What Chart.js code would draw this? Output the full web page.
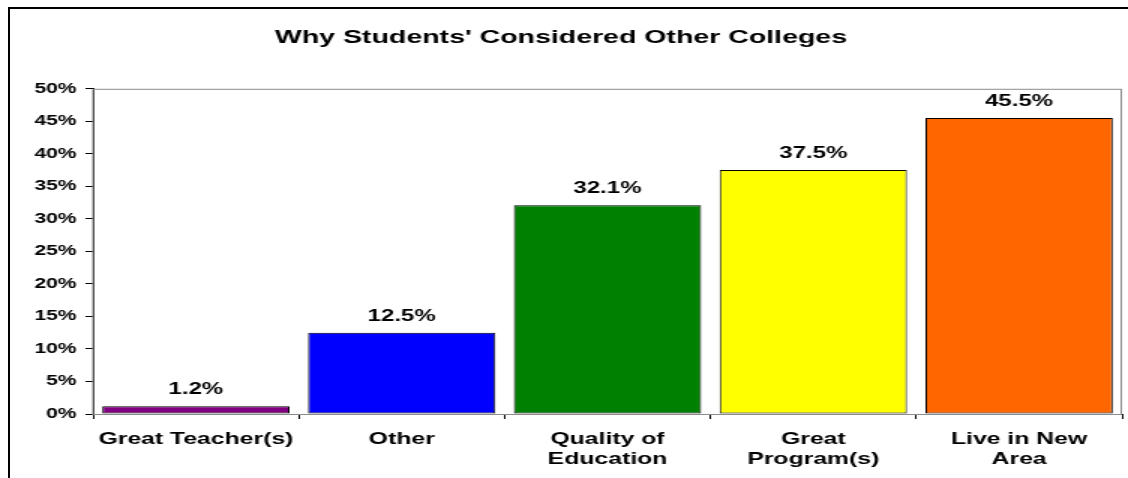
<!DOCTYPE html>
<html>
<head>
<meta charset="utf-8">
<script src="https://cdn.jsdelivr.net/npm/chart.js@4.4.1/dist/chart.umd.min.js"></script>
<style>
  html, body { margin: 0; padding: 0; background: #fff; overflow: hidden; width: 1128px; height: 478px; }
  #frame { position: absolute; left: 8px; top: 7px; width: 1140px; height: 490px; border: 2px solid #000; box-sizing: border-box; }
  #wrap { position: absolute; left: 0; top: 0; width: 752px; height: 478px; transform: scaleX(1.5); transform-origin: 0 0; }
  canvas { display: block; }
</style>
</head>
<body>
<div id="frame"></div>
<div id="wrap"><canvas id="c" width="752" height="478"></canvas></div>
<script>
const titleText = "Why Students' Considered Other Colleges";
const categories = [
  'Great Teacher(s)',
  'Other',
  ['Quality of', 'Education'],
  ['Great', 'Program(s)'],
  ['Live in New', 'Area']
];
const values = [1.2, 12.5, 32.1, 37.5, 45.5];
const barColors = ['#800080', '#0000FF', '#008000', '#FFFF00', '#FF6600'];
const yMin = 0, yMax = 50, yStep = 5;

const FONT = "'Liberation Sans', Arial, sans-serif";

const plotFrame = {
  id: 'plotFrame',
  beforeDatasetsDraw(chart) {
    const a = chart.chartArea, ctx = chart.ctx;
    ctx.save();
    ctx.strokeStyle = '#8c8c8c';
    ctx.lineWidth = 1;
    ctx.strokeRect(a.left, a.top + 0.5, a.right - a.left - 0.5, a.bottom - a.top);
    ctx.restore();
  }
};

const valueLabels = {
  id: 'valueLabels',
  afterDatasetsDraw(chart) {
    const ctx = chart.ctx;
    const meta = chart.getDatasetMeta(0);
    ctx.save();
    ctx.font = 'bold 16px ' + FONT;
    ctx.fillStyle = '#000';
    ctx.textAlign = 'center';
    ctx.textBaseline = 'alphabetic';
    meta.data.forEach((bar, i) => {
      ctx.fillText(values[i].toFixed(1) + '%', bar.x, bar.y - 12);
    });
    ctx.restore();
  }
};

new Chart(document.getElementById('c'), {
  type: 'bar',
  data: {
    labels: categories,
    datasets: [{
      data: values,
      backgroundColor: barColors,
      borderColor: '#000',
      borderWidth: 1,
      borderSkipped: false,
      barPercentage: 0.91,
      categoryPercentage: 1.0
    }]
  },
  options: {
    responsive: false,
    animation: false,
    devicePixelRatio: 1,
    layout: { padding: { left: 0, right: 4, top: 0, bottom: 0 } },
    plugins: {
      legend: { display: false },
      tooltip: { enabled: false },
      title: {
        display: true,
        text: titleText,
        color: '#000',
        font: { family: FONT, size: 19, weight: 'bold' },
        padding: { top: 26, bottom: 40 }
      }
    },
    scales: {
      x: {
        grid: { offset: true, drawOnChartArea: false, drawTicks: true, tickLength: 5, color: '#000' },
        border: { display: true, color: '#000', width: 1 },
        ticks: {
          color: '#000',
          font: { family: FONT, size: 16.5, weight: 'bold', lineHeight: 1.25 },
          padding: 10,
          maxRotation: 0,
          autoSkip: false
        },
        afterFit(scale) { scale.height = 64; }
      },
      y: {
        min: yMin,
        max: yMax,
        grid: { drawOnChartArea: false, drawTicks: true, tickLength: 5, color: '#000' },
        border: { display: true, color: '#000', width: 1 },
        ticks: {
          stepSize: yStep,
          color: '#000',
          font: { family: FONT, size: 14, weight: 'bold' },
          padding: 6,
          callback: v => v + '%'
        },
        afterFit(scale) { scale.width = 62; }
      }
    }
  },
  plugins: [plotFrame, valueLabels]
});
</script>
</body>
</html>
